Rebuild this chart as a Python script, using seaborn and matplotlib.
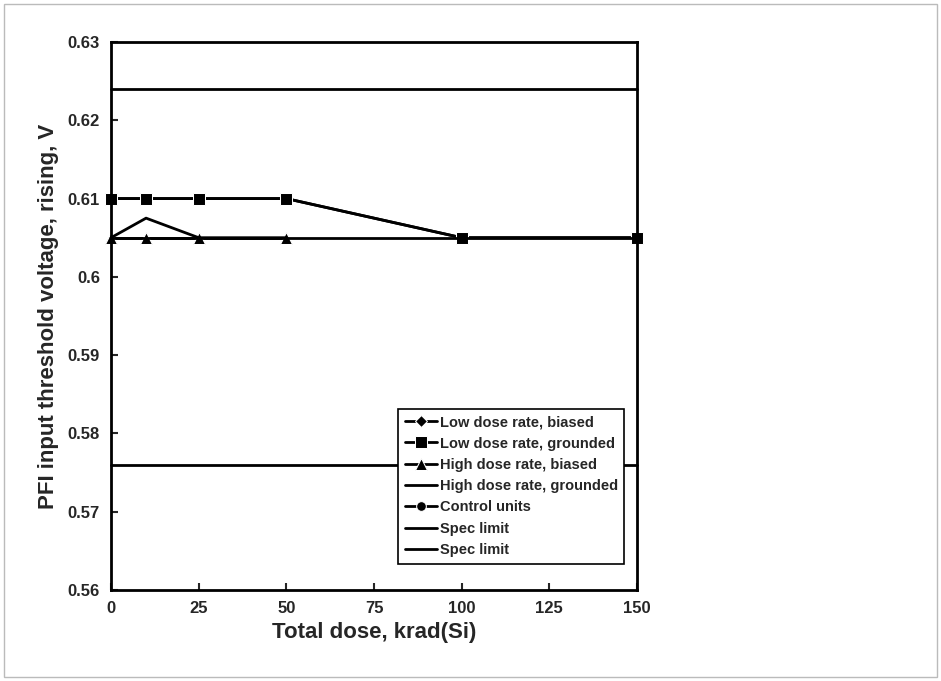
import matplotlib
matplotlib.use('Agg')
import matplotlib.pyplot as plt
import seaborn as sns
import pandas as pd
from matplotlib.patches import Rectangle

sns.set_style('white')
plt.rcParams['font.family'] = ['Liberation Sans', 'DejaVu Sans']

dose = [0, 10, 25, 50, 100, 150]
low_biased = [0.61, 0.61, 0.61, 0.61, 0.605, 0.605]
low_grounded = [0.61, 0.61, 0.61, 0.61, 0.605, 0.605]
high_dose = [0, 10, 25, 50]
high_biased = [0.605, 0.605, 0.605, 0.605]
high_grounded = [0.605, 0.6075, 0.605, 0.605]
control_dose = [0, 150]
control = [0.605, 0.605]
spec_x = [0, 150]
spec_hi = [0.624, 0.624]
spec_lo = [0.576, 0.576]

fig = plt.figure(figsize=(9.41, 6.81), dpi=100)
fig.patches.append(Rectangle((0.004, 0.006), 0.992, 0.988, transform=fig.transFigure,
                             fill=False, edgecolor='#bbbbbb', lw=1))
ax = fig.add_axes([111/941, 1-590/681, (637-111)/941, (590-42)/681])

series = [
    ('Low dose rate, biased', dose, low_biased, 'D', 6.5),
    ('Low dose rate, grounded', dose, low_grounded, 's', 8),
    ('High dose rate, biased', high_dose, high_biased, '^', 8.5),
    ('High dose rate, grounded', high_dose, high_grounded, None, 0),
    ('Control units', control_dose, control, 'o', 0.01),
    ('Spec limit', spec_x, spec_hi, None, 0),
    ('Spec limit ', spec_x, spec_lo, None, 0),
]
for name, xs, ys, m, ms in series:
    df = pd.DataFrame({'x': xs, 'y': ys})
    sns.lineplot(data=df, x='x', y='y', ax=ax, color='black', lw=2,
                 marker=m, markersize=ms, label=name.strip(), clip_on=False)

ax.set_xlim(0, 150)
ax.set_ylim(0.56, 0.63)
ax.set_xticks(range(0, 151, 25))
ax.set_yticks([0.56, 0.57, 0.58, 0.59, 0.6, 0.61, 0.62, 0.63])
ax.set_yticklabels(['0.56', '0.57', '0.58', '0.59', '0.6', '0.61', '0.62', '0.63'])
ax.tick_params(axis='both', labelsize=12, direction='in', length=5, width=1.5, left=True, bottom=True, pad=8)
for lab in ax.get_xticklabels() + ax.get_yticklabels():
    lab.set_fontweight('bold')
for s in ax.spines.values():
    s.set_color('black'); s.set_linewidth(2)
ax.set_xlabel('Total dose, krad(Si)', fontsize=16, fontweight='bold', labelpad=4)
ax.set_ylabel('PFI input threshold voltage, rising, V', fontsize=16, fontweight='bold', labelpad=6)

leg = ax.legend(loc='lower right', bbox_to_anchor=(0.99, 0.035), frameon=True, fancybox=False,
                edgecolor='black', facecolor='white', framealpha=1, fontsize=10.5,
                handlelength=2.2, borderpad=0.45, labelspacing=0.5, handletextpad=0.2)
leg.set_zorder(20)
for t in leg.get_texts():
    t.set_fontweight('bold')
for h in leg.legend_handles:
    if h.get_marker() == 'o':
        h.set_markersize(7)
leg.get_frame().set_linewidth(1.2)

fig.savefig('out.png', dpi=100)
